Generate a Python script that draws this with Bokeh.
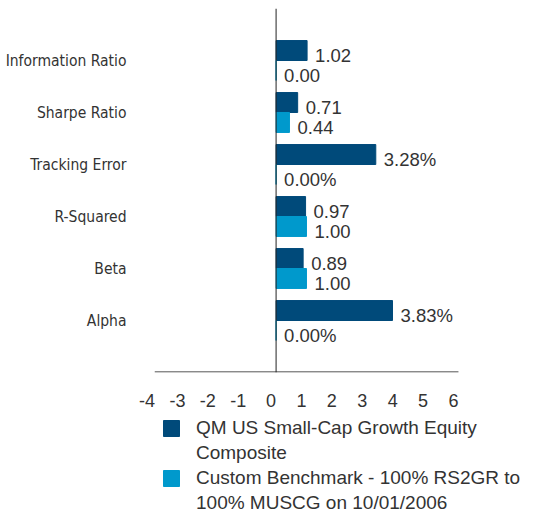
from bokeh.plotting import figure
from bokeh.layouts import column
from bokeh.models import Range1d, FactorRange, Span, Legend, LegendItem, ColumnDataSource, FixedTicker
from bokeh.transform import dodge
from bokeh.core.properties import value
from bokeh.embed import file_html
from bokeh.resources import INLINE

metrics = ["Information Ratio", "Sharpe Ratio", "Tracking Error", "R-Squared", "Beta", "Alpha"]
composite = [1.02, 0.71, 3.28, 0.97, 0.89, 3.83]
benchmark = [0.00, 0.44, 0.00, 1.00, 1.00, 0.00]
units = ["", "", "%", "", "", "%"]
x_ticks = [-4, -3, -2, -1, 0, 1, 2, 3, 4, 5, 6]
series_names = ["QM US Small-Cap Growth Equity\nComposite",
                "Custom Benchmark - 100% RS2GR to\n100% MUSCG on 10/01/2006"]
colors = ["#004A7A", "#0099CC"]

src = ColumnDataSource(dict(
    metric=metrics,
    comp=composite,
    bench=benchmark,
    comp_lbl=[f"{v:.2f}{u}" for v, u in zip(composite, units)],
    bench_lbl=[f"{v:.2f}{u}" for v, u in zip(benchmark, units)],
))

p = figure(width=537, height=413,
           y_range=FactorRange(factors=list(reversed(metrics)), range_padding=0.5,
                               range_padding_units="absolute"),
           x_range=Range1d(-4, 8.6),
           output_backend="svg", toolbar_location=None,
           min_border_left=154, min_border_right=0, min_border_top=8, min_border_bottom=40)

p.xgrid.grid_line_color = None
p.ygrid.grid_line_color = None
p.outline_line_color = None
p.background_fill_color = "white"

# labels sit just left of their ticks, as in the reference
p.xaxis.ticker = FixedTicker(ticks=x_ticks)
p.xaxis.major_label_overrides = {t: str(t) + ("\u00a0" * (3 if t < 0 else 2)) for t in x_ticks}
p.xaxis.major_tick_line_color = None
p.xaxis.minor_tick_line_color = None
p.xaxis.axis_line_color = None
p.xaxis.major_label_text_font = "Liberation Sans"
p.xaxis.major_label_text_font_size = "18px"
p.xaxis.major_label_text_color = "#333333"
p.xaxis.major_label_standoff = 12

# x-axis rule, limited to the tick span, at the bottom edge of the category range
rule = ColumnDataSource(dict(x0=[min(x_ticks)], x1=[max(x_ticks)], base=[metrics[-1]]))
p.segment(x0="x0", x1="x1",
          y0=dodge("base", -0.99, range=p.y_range), y1=dodge("base", -0.99, range=p.y_range),
          line_color="#222222", line_width=1, source=rule)

p.yaxis.axis_line_color = None
p.yaxis.major_tick_line_color = None
p.yaxis.minor_tick_line_color = None
p.yaxis.major_label_standoff = 22
p.yaxis.major_label_text_font = "DejaVu Sans Condensed"
p.yaxis.major_label_text_font_size = "15.5px"
p.yaxis.major_label_text_color = "#333333"

p.add_layout(Span(location=0, dimension="height", line_color="#222222", line_width=1))

off = 0.192
r1 = p.hbar(y=dodge("metric", off, range=p.y_range), left=0, right="comp", height=0.384,
            color=colors[0], source=src)
r2 = p.hbar(y=dodge("metric", -off, range=p.y_range), left=0, right="bench", height=0.384,
            color=colors[1], source=src)

for col, lbl, o in (("comp", "comp_lbl", off), ("bench", "bench_lbl", -off)):
    p.text(x=col, y=dodge("metric", o, range=p.y_range), text=lbl, source=src,
           x_offset=8, y_offset=5, text_baseline="middle", text_align="left",
           text_font=value("Liberation Sans"), text_font_size="18.5px", text_color="#333333")

# legend strip below the chart (its swatch renderers are hidden)
q = figure(width=537, height=105, x_range=Range1d(-4, 8.6),
           y_range=FactorRange(factors=metrics),
           output_backend="svg", toolbar_location=None,
           x_axis_location=None, y_axis_location=None,
           min_border_left=154, min_border_right=0, min_border_top=0, min_border_bottom=0)
q.xgrid.grid_line_color = None
q.ygrid.grid_line_color = None
q.outline_line_color = None
q1 = q.hbar(y="metric", left=0, right="comp", height=0.4, color=colors[0], source=src, visible=False)
q2 = q.hbar(y="metric", left=0, right="bench", height=0.4, color=colors[1], source=src, visible=False)

items = []
for name, r in zip(series_names, (q1, q2)):
    lines = name.split("\n")
    items.append(LegendItem(label=lines[0], renderers=[r]))
    for extra in lines[1:]:
        items.append(LegendItem(label=extra, renderers=[]))

legend = Legend(items=items,
                location=(7, 4), glyph_width=20, glyph_height=20, label_standoff=15,
                spacing=3, padding=0, margin=0, border_line_color=None,
                background_fill_alpha=0, inactive_fill_alpha=0,
                label_text_font="Liberation Sans",
                label_text_font_size="19px", label_text_color="#333333")
q.add_layout(legend)

open("out.html", "w").write(file_html(column(p, q, spacing=0), INLINE))
